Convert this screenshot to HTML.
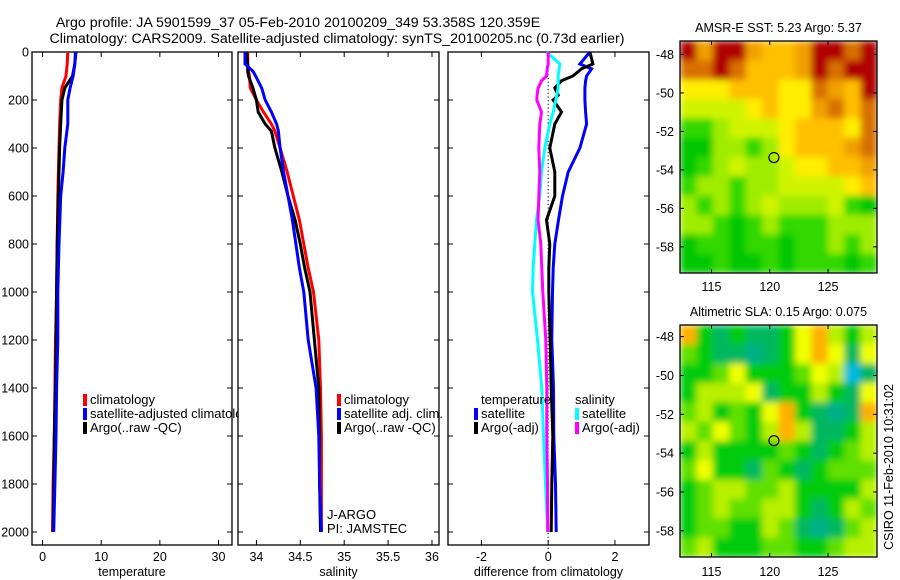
<!DOCTYPE html>
<html><head><meta charset="utf-8"><style>
html,body{margin:0;padding:0;background:#fff;}
svg{display:block;font-family:"Liberation Sans",sans-serif;}
</style></head><body>
<svg id="fig" width="900" height="580" viewBox="0 0 900 580" xmlns="http://www.w3.org/2000/svg">
<defs>
<filter id="blur" x="0" y="0" width="1" height="1"><feGaussianBlur stdDeviation="3.5" edgeMode="duplicate"/></filter>
<clipPath id="mc1"><rect x="680" y="41" width="197" height="232"/></clipPath>
<clipPath id="mc2"><rect x="680" y="325" width="197" height="232"/></clipPath>
</defs>
<rect width="900" height="580" fill="#fff"/>
<text x="298" y="27" font-size="14.2" text-anchor="middle">Argo profile: JA 5901599_37 05-Feb-2010 20100209_349 53.358S 120.359E</text>
<text x="337" y="43" font-size="14.2" text-anchor="middle">Climatology: CARS2009. Satellite-adjusted climatology: synTS_20100205.nc (0.73d earlier)</text>
<g id="plots"></g>
</svg>
<script>
// ---- depth levels ----
const depthT = [0,50,100,150,200,300,400,500,600,800,1000,1200,1400,1600,1800,2000];
const tempClim = [4.3,4.2,4.0,3.3,3.1,2.9,2.8,2.7,2.6,2.5,2.4,2.2,2.1,2.0,1.8,1.7];
const tempSat  = [5.7,5.5,5.2,4.7,4.3,4.3,3.8,3.5,3.1,2.8,2.6,2.6,2.4,2.3,2.1,1.9];
const tempArgo = [5.6,5.5,5.1,3.8,3.3,3.1,2.9,2.8,2.7,2.5,2.4,2.3,2.2,2.0,1.9,1.8];

const depthS = [0,50,80,100,150,200,250,300,330,400,500,600,700,800,900,1000,1200,1400,1600,1800,2000];
const salClim = [33.9,33.9,33.91,33.92,33.93,34.0,34.08,34.17,34.21,34.27,34.35,34.42,34.49,34.54,34.59,34.65,34.71,34.73,34.74,34.74,34.74];
const salSat  = [33.87,33.87,33.96,33.99,34.06,34.1,34.17,34.23,34.25,34.27,34.31,34.36,34.41,34.45,34.49,34.54,34.59,34.68,34.71,34.72,34.74];
const salArgo = [33.89,33.9,33.9,33.91,33.96,34.0,34.02,34.1,34.17,34.21,34.29,34.36,34.44,34.5,34.55,34.61,34.66,34.71,34.72,34.72,34.73];

const depthD = [0,50,70,100,120,150,180,200,250,300,400,500,600,700,800,900,1000,1200,1400,1600,1800,2000];
const dTSat  = [1.25,0.95,1.3,1.15,1.12,1.1,1.1,1.1,1.12,1.15,0.95,0.6,0.43,0.31,0.2,0.15,0.13,0.11,0.16,0.17,0.22,0.24];
const dTArgo = [1.25,1.34,1.0,0.74,0.4,0.2,0.3,0.15,0.4,0.2,0.05,0.2,0.2,-0.05,0.05,0.02,0.02,0.06,0.09,0.14,0.11,0.09];
const dSSat  = [-0.05,0.35,0.33,0.3,0.3,0.3,0.26,0.23,0.15,0.05,-0.1,-0.2,-0.25,-0.35,-0.4,-0.45,-0.47,-0.32,-0.19,-0.14,-0.08,-0.01];
const dSArgo = [0,0,-0.03,-0.05,-0.2,-0.3,-0.33,-0.34,-0.2,-0.25,-0.28,-0.25,-0.28,-0.3,-0.22,-0.19,-0.16,-0.07,-0.04,-0.04,-0.02,-0.01];

const depthTicks = [0,200,400,600,800,1000,1200,1400,1600,1800,2000];
const tempTicks = [0,10,20,30];
const salTicks = [34,34.5,35,35.5,36];
const salTickLabels = ["34","34.5","35","35.5","36"];
const diffTicks = [-2,0,2];

// ---- maps ----
const lonTicks = [115,120,125];
const latTicks = [-48,-50,-52,-54,-56,-58];
const floatLon = [120.359];
const floatLat = [-53.358];
const sstGrid = [
[9,7,9,9,7,6,6,7,9,9,8,9],
[8,8,9,8,6,6,6,7,9,8,9,9],
[5,5,5,6,6,6,5,5,8,7,6,9],
[4,4,4,4,5,6,5,5,7,8,6,8],
[2,2,3,4,4,4,5,6,6,6,5,8],
[1,1,3,3,2,3,5,6,6,6,7,8],
[1,2,3,4,3,3,4,5,5,6,6,7],
[2,3,3,2,3,3,4,4,4,4,5,6],
[3,2,3,2,3,4,3,3,3,4,2,1],
[3,3,2,1,2,3,2,2,2,3,3,3],
[1,2,2,1,2,2,1,2,2,3,2,3],
[1,1,2,1,1,2,1,2,2,2,1,2]];
const slaGrid = [
[8,4,3,4,3,3,4,7,8,6,4,6],
[5,4,3,3,2,3,4,7,8,7,3,7],
[4,4,5,7,4,4,4,5,7,6,1,3],
[4,6,6,6,7,3,4,4,6,4,3,7],
[5,6,4,5,4,7,8,4,3,2,3,8],
[6,5,7,5,4,6,8,6,3,3,4,6],
[4,6,4,4,4,4,5,4,3,4,5,6],
[5,7,4,4,3,5,4,3,4,5,5,5],
[4,5,6,6,5,5,6,4,4,4,4,6],
[4,5,6,5,5,6,6,4,3,4,6,5],
[4,5,5,4,4,6,5,3,2,3,5,6],
[5,6,4,4,4,5,5,4,4,5,6,6]];
const sstColors = ["#00b040","#00c800","#30d800","#a0ec00","#d0f400","#ffee00","#ffc000","#f0a000","#d87000","#b00000"];
const slaColors = ["#0070ff","#00b8e0","#00b088","#00b860","#00cc10","#60e000","#b8f000","#f0ff00","#ffb000","#ff8000"];

const NS="http://www.w3.org/2000/svg";
const root=document.getElementById('plots');
function mk(tag,attrs,parent){const e=document.createElementNS(NS,tag);for(const k in attrs)e.setAttribute(k,attrs[k]);(parent||root).appendChild(e);return e;}

const Y0=52, Y1=545;
const dy = d => 52 + d*0.24;

function panel(name,x0,x1,dmin,dmax,ticks,labels,xlabel,showY){
  const sx = v => x0 + (v-dmin)/(dmax-dmin)*(x1-x0);
  const g=mk('g',{});
  
  
  const fr=mk('rect',{x:x0,y:Y0,width:x1-x0,height:Y1-Y0,fill:'none',stroke:'#000','stroke-width':1.3},g);
  
  
  ticks.forEach((t,i)=>{
    const x=sx(t);
    mk('line',{x1:x,x2:x,y1:Y1,y2:Y1-5,stroke:'#000'},g);
    mk('line',{x1:x,x2:x,y1:Y0,y2:Y0+5,stroke:'#000'},g);
    const tl=mk('text',{x:x,y:561,'font-size':12.5,'text-anchor':'middle'},g);
    tl.textContent=labels[i];
    
    
  });
  depthTicks.forEach(d=>{
    const y=dy(d);
    mk('line',{x1:x0,x2:x0+5,y1:y,y2:y,stroke:'#000'},g);
    mk('line',{x1:x1,x2:x1-5,y1:y,y2:y,stroke:'#000'},g);
    if(showY){const t=mk('text',{x:x0-3,y:y+4.5,'font-size':12.5,'text-anchor':'end'},g);t.textContent=d;
      
      }
  });
  const xt=mk('text',{x:(x0+x1)/2,y:576,'font-size':12.5,'text-anchor':'middle'},g);
  xt.textContent=xlabel;
  
  
  return {sx,g};
}
function line(p,depths,vals,color,name){
  const pts=depths.map((d,i)=>p.sx(vals[i]).toFixed(1)+','+dy(d).toFixed(1)).join(' ');
  const l=mk('polyline',{points:pts,fill:'none',stroke:color,'stroke-width':3,'stroke-linejoin':'miter'},p.g);
  
  
}
function legend(g,x,y,color,label,name){
  if(color){const r=mk('rect',{x:x,y:y-10,width:4,height:12,fill:color},g);
    
    }
  const t=mk('text',{x:x+7,y:y,'font-size':13},g);t.textContent=label;
  
  
}

// panel 1
const p1=panel('temperature',32,232,-1.8,32.3,tempTicks,tempTicks.map(String),'temperature',true);
line(p1,depthT,tempClim,'#ff0000','temp-climatology-line');
line(p1,depthT,tempArgo,'#000000','temp-argo-line');
line(p1,depthT,tempSat,'#0000ff','temp-satellite-line');
legend(p1.g,83,404,'#ff0000','climatology','legend-climatology');
const cp=mk('clipPath',{id:'c1'},p1.g);mk('rect',{x:0,y:0,width:238,height:580},cp);
const lg=mk('g',{'clip-path':'url(#c1)'},p1.g);
legend(lg,83,418,'#0000ff','satellite-adjusted climatology','legend-satellite-adjusted');
legend(p1.g,83,432,'#000000','Argo(..raw -QC)','legend-argo');

// panel 2
const p2=panel('salinity',238,439,33.79,36.08,salTicks,salTickLabels,'salinity',false);
line(p2,depthS,salClim,'#ff0000','sal-climatology-line');
line(p2,depthS,salArgo,'#000000','sal-argo-line');
line(p2,depthS,salSat,'#0000ff','sal-satellite-line');
legend(p2.g,337,404,'#ff0000','climatology','legend-sal-climatology');
legend(p2.g,337,418,'#0000ff','satellite adj. clim.','legend-sal-satellite');
legend(p2.g,337,432,'#000000','Argo(..raw -QC)','legend-sal-argo');
legend(p2.g,320,519,null,'J-ARGO','dac-label');
legend(p2.g,320,533,null,'PI: JAMSTEC','pi-label');

// panel 3
const p3=panel('difference',448,649,-3,3.02,diffTicks,diffTicks.map(String),'difference from climatology',false);
const zx=p3.sx(0);
const zl=mk('line',{x1:zx,x2:zx,y1:Y0,y2:Y1+8,stroke:'#000','stroke-dasharray':'1.2,2.5'},p3.g);


line(p3,depthD,dTSat,'#0000ff','diff-temp-satellite-line');
line(p3,depthD,dTArgo,'#000000','diff-temp-argo-line');
line(p3,depthD,dSSat,'#00ffff','diff-sal-satellite-line');
line(p3,depthD,dSArgo,'#ff00ff','diff-sal-argo-line');
legend(p3.g,474,404,null,'temperature','legend-temperature-header');
legend(p3.g,474,418,'#0000ff','satellite','legend-diff-temp-satellite');
legend(p3.g,474,432,'#000000','Argo(-adj)','legend-diff-temp-argo');
legend(p3.g,568,404,null,'salinity','legend-salinity-header');
legend(p3.g,575,418,'#00ffff','satellite','legend-diff-sal-satellite');
legend(p3.g,575,432,'#ff00ff','Argo(-adj)','legend-diff-sal-argo');

// maps
function map(name,y0,y1,latTop,latBot,grid,colors,title,lonLabelY,clip){
  const x0=680,x1=877,lonL=112.3,lonR=129.2;
  const sx=v=>x0+(v-lonL)/(lonR-lonL)*(x1-x0);
  const sy=v=>y0+(latTop-v)/(latTop-latBot)*(y1-y0);
  const g=mk('g',{});
  
  
  const cg=mk('g',{'clip-path':'url(#'+clip+')'},g);
  const bg=mk('g',{filter:'url(#blur)'},cg);
  const rows=grid.length, cols=grid[0].length;
  const cw=(x1-x0)/cols, ch=(y1-y0)/rows;
  grid.forEach((row,r)=>row.forEach((v,c)=>{
    const cell=mk('rect',{x:x0+c*cw,y:y0+r*ch,width:cw+0.6,height:ch+0.6,fill:colors[v]},bg);
    
    
  }));
  mk('rect',{x:x0,y:y0,width:x1-x0,height:y1-y0,fill:'none',stroke:'#000','stroke-width':1.3},g);
  lonTicks.forEach(t=>{const x=sx(t);
    mk('line',{x1:x,x2:x,y1:y1,y2:y1-4,stroke:'#000'},g);mk('line',{x1:x,x2:x,y1:y0,y2:y0+4,stroke:'#000'},g);
    const tl=mk('text',{x:x,y:lonLabelY,'font-size':12.5,'text-anchor':'middle'},g);tl.textContent=t;
    
    });
  latTicks.forEach(t=>{const y=sy(t);
    mk('line',{x1:x0,x2:x0+4,y1:y,y2:y,stroke:'#000'},g);mk('line',{x1:x1,x2:x1-4,y1:y,y2:y,stroke:'#000'},g);
    const tl=mk('text',{x:x0-6,y:y+4.5,'font-size':12.5,'text-anchor':'end'},g);tl.textContent=t;
    
    });
  const c=mk('circle',{cx:sx(floatLon[0]),cy:sy(floatLat[0]),r:5,fill:'none',stroke:'#000','stroke-width':1.2},g);
  
  
  const tt=mk('text',{x:(x0+x1)/2,y:y0-9,'font-size':12.5,'text-anchor':'middle'},g);tt.textContent=title;
  
  
}
map('sst',41,273,-47.3,-59.36,sstGrid,sstColors,'AMSR-E SST: 5.23 Argo: 5.37',291,'mc1');
map('sla',325,557,-47.4,-59.35,slaGrid,slaColors,'Altimetric SLA: 0.15 Argo: 0.075',576,'mc2');

const st=mk('text',{x:0,y:0,'font-size':12.5,'text-anchor':'middle',transform:'translate(893,467) rotate(-90)'});
st.textContent='CSIRO 11-Feb-2010 10:31:02';


</script>
</body></html>
